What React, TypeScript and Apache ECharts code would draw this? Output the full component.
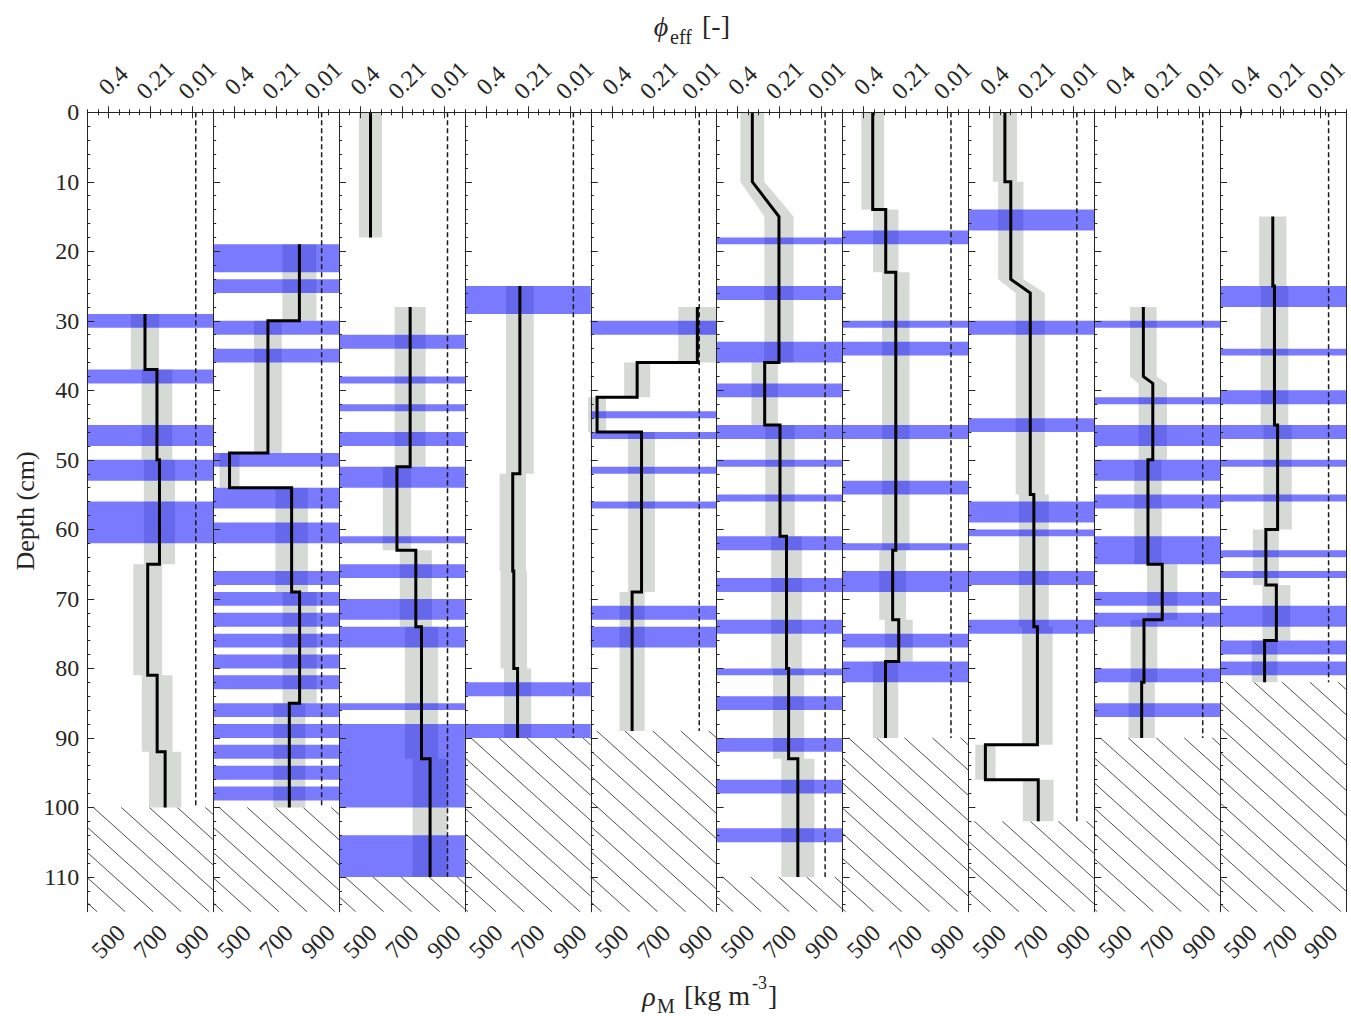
import React, { useEffect, useRef } from 'react';
import * as echarts from 'echarts';

const RHO_MIN = 400;
const RHO_MAX = 1000;
const DEPTH_MAX = 115;
const ICE_DENSITY = 917;
const UNCERTAINTY = 0.1;

const rhoTicks = [500, 700, 900];
const phiTickLabels = ['0.4', '0.21', '0.01'];
const depthTicks = [0, 10, 20, 30, 40, 50, 60, 70, 80, 90, 100, 110];
const depthMinorTicks = Array.from({ length: 58 }, (_, k) => k * 2);

// density profiles: vertex depths (cm) and densities (kg m-3); null splits a profile
const p1Depth = [29, 37, 37, 50, 50, 65, 65, 81, 81, 92, 92, 100];
const p1Rho = [675, 675, 732, 732, 744, 744, 688, 688, 733, 733, 771, 771];
const p2Depth = [19, 30, 30, 49, 49, 54, 54, 69, 69, 85, 85, 100];
const p2Rho = [811, 811, 661, 661, 478, 478, 774, 774, 812, 812, 763, 763];
const p3Depth = [0, 18, null, 28, 51, 51, 63, 63, 74, 74, 93, 93, 110];
const p3Rho = [550, 550, null, 739, 739, 676, 676, 766, 766, 793, 793, 834, 834];
const p4Depth = [25, 52, 52, 66, 66, 80, 80, 90];
const p4Rho = [662, 662, 628, 628, 633, 633, 651, 651];
const p5Depth = [28, 36, 36, 41, 41, 46, 46, 69, 69, 89];
const p5Rho = [908, 908, 621, 621, 430, 430, 642, 642, 597, 597];
const p6Depth = [0, 10, 15, 36, 36, 45, 45, 61, 61, 80, 80, 93, 93, 110];
const p6Rho = [570, 570, 697, 697, 629, 629, 702, 702, 733, 733, 743, 743, 787, 787];
const p7Depth = [0, 14, 14, 23, 23, 63, 63, 73, 73, 79, 79, 90];
const p7Rho = [544, 544, 606, 606, 654, 654, 639, 639, 668, 668, 605, 605];
const p8Depth = [0, 10, 10, 24, 26, 55, 55, 74, 74, 91, 91, 96, 96, 102];
const p8Rho = [574, 574, 602, 602, 695, 695, 712, 712, 729, 729, 481, 481, 733, 733];
const p9Depth = [28, 38, 39, 50, 50, 65, 65, 73, 73, 82, 82, 90];
const p9Rho = [634, 634, 679, 679, 656, 656, 724, 724, 637, 637, 626, 626];
const p10Depth = [15, 25, 25, 45, 45, 60, 60, 68, 68, 76, 76, 82];
const p10Rho = [651, 651, 659, 659, 674, 674, 618, 618, 668, 668, 612, 612];

// blue layers: [top, bottom] depth (cm)
const b1 = [[29, 31], [37, 39], [45, 48], [50, 53], [56, 62]];
const b2 = [[19, 23], [24, 26], [30, 32], [34, 36], [49, 51], [54, 57], [59, 62], [66, 68], [69, 71], [72, 74], [75, 77], [78, 80], [81, 83], [85, 87], [88, 90], [91, 93], [94, 96], [97, 99]];
const b3 = [[32, 34], [38, 39], [42, 43], [46, 48], [51, 54], [61, 62], [65, 67], [70, 73], [74, 77], [85, 86], [88, 100], [104, 110]];
const b4 = [[25, 29], [82, 84], [88, 90]];
const b5 = [[30, 32], [43, 44], [46, 47], [51, 52], [56, 57], [71, 73], [74, 77]];
const b6 = [[18, 19], [25, 27], [33, 36], [39, 41], [45, 47], [50, 51], [55, 56], [61, 63], [67, 69], [73, 75], [80, 81], [84, 86], [90, 92], [96, 98], [103, 105]];
const b7 = [[17, 19], [30, 31], [33, 35], [45, 47], [53, 55], [62, 63], [66, 69], [75, 77], [79, 82]];
const b8 = [[14, 17], [30, 32], [44, 46], [56, 59], [60, 61], [66, 68], [73, 75]];
const b9 = [[30, 31], [41, 42], [45, 48], [50, 53], [55, 57], [61, 65], [69, 71], [72, 74], [80, 82], [85, 87]];
const b10 = [[25, 28], [34, 35], [40, 42], [45, 47], [50, 51], [55, 56], [63, 64], [66, 67], [71, 74], [76, 78], [79, 81]];

// depth where each core ends (hatched below)
const bottoms = [100, 100, 110, 90, 89, 110, 90, 102, 90, 82];

const profileDepths = [p1Depth, p2Depth, p3Depth, p4Depth, p5Depth, p6Depth, p7Depth, p8Depth, p9Depth, p10Depth];
const profileRhos = [p1Rho, p2Rho, p3Rho, p4Rho, p5Rho, p6Rho, p7Rho, p8Rho, p9Rho, p10Rho];
const bands = [b1, b2, b3, b4, b5, b6, b7, b8, b9, b10];

const PANEL_LEFT = 87.3;
const PANEL_W = 125.87;
const PANEL_TOP = 112.3;
const PANEL_H = 799.4;
const AX = '#262626';
const TXT = '#262626';
const FONT = '"Liberation Serif", "Times New Roman", serif';
const GRAY = '#d6dad5';
const BLUE = 'rgba(0,0,255,0.52)';

function splitSegments(depths: (number | null)[], rhos: (number | null)[]) {
  const segs: number[][][] = [];
  let cur: number[][] = [];
  for (let i = 0; i < depths.length; i++) {
    const d = depths[i];
    const r = rhos[i];
    if (d == null || r == null) {
      if (cur.length) segs.push(cur);
      cur = [];
    } else cur.push([r, d]);
  }
  if (cur.length) segs.push(cur);
  return segs;
}

function buildOption() {
  const grid: any[] = [];
  const xAxis: any[] = [];
  const yAxis: any[] = [];
  const series: any[] = [];

  const labelStyle = { color: TXT, fontFamily: FONT, fontSize: 24 };

  for (let i = 0; i < 10; i++) {
    const left = PANEL_LEFT + i * PANEL_W;
    const gA = 2 * i;
    const gB = 2 * i + 1;
    grid.push({ left, top: PANEL_TOP, width: PANEL_W, height: PANEL_H });
    grid.push({ left, top: PANEL_TOP, width: PANEL_W, height: PANEL_H });

    const minorX = (position: string) => ({
      gridIndex: gA, type: 'value', position, min: RHO_MIN, max: RHO_MAX, interval: 50, z: 10,
      axisLine: { show: true, lineStyle: { color: AX, width: 1 } },
      axisTick: { show: true, inside: true, length: 3, lineStyle: { color: AX, width: 1 } },
      axisLabel: { show: false }, splitLine: { show: false },
    });
    xAxis.push(minorX('bottom'));
    xAxis.push(minorX('top'));
    xAxis.push({
      gridIndex: gB, type: 'value', position: 'bottom', min: RHO_MIN, max: RHO_MAX, z: 10,
      axisLine: { show: false },
      axisTick: { show: true, inside: true, length: 6, customValues: rhoTicks, lineStyle: { color: AX, width: 1 } },
      axisLabel: {
        show: true, customValues: rhoTicks, rotate: 45, margin: 30, align: 'center', verticalAlign: 'middle',
        ...labelStyle,
        formatter: (v: number) => (rhoTicks.indexOf(v) >= 0 ? String(v) : ''),
      },
      splitLine: { show: false },
    });
    xAxis.push({
      gridIndex: gB, type: 'value', position: 'top', min: RHO_MIN, max: RHO_MAX, z: 10,
      axisLine: { show: false },
      axisTick: { show: true, inside: true, length: 6, customValues: rhoTicks, lineStyle: { color: AX, width: 1 } },
      axisLabel: {
        show: true, customValues: rhoTicks, rotate: -45, margin: 27, align: 'center', verticalAlign: 'middle',
        padding: [0, 0, 0, 14],
        ...labelStyle,
        formatter: (v: number) => {
          const k = rhoTicks.indexOf(v);
          return k >= 0 ? phiTickLabels[k] : '';
        },
      },
      splitLine: { show: false },
    });

    yAxis.push({
      gridIndex: gA, type: 'value', position: 'left', inverse: true, min: 0, max: DEPTH_MAX, z: 10,
      axisLine: { show: true, lineStyle: { color: AX, width: 1 } },
      axisTick: { show: true, inside: true, length: 3, customValues: depthMinorTicks, lineStyle: { color: AX, width: 1 } },
      axisLabel: { show: false }, splitLine: { show: false },
    });
    yAxis.push({
      gridIndex: gA, type: 'value', position: 'right', inverse: true, min: 0, max: DEPTH_MAX, z: 10,
      axisLine: { show: true, lineStyle: { color: AX, width: 1 } },
      axisTick: { show: false }, axisLabel: { show: false }, splitLine: { show: false },
    });
    yAxis.push({
      gridIndex: gB, type: 'value', position: 'left', inverse: true, min: 0, max: DEPTH_MAX, z: 10,
      axisLine: { show: false },
      axisTick: { show: true, inside: true, length: 7, customValues: depthTicks, lineStyle: { color: AX, width: 1 } },
      axisLabel: {
        show: i === 0, customValues: depthTicks, margin: 8, ...labelStyle,
        formatter: (v: number) => (depthTicks.indexOf(v) >= 0 ? String(v) : ''),
      },
      splitLine: { show: false },
    });

    const xi = 4 * i;
    const yi = 3 * i;
    const segs = splitSegments(profileDepths[i], profileRhos[i]);
    const bottom = bottoms[i];

    // hatched region below the core
    series.push({
      type: 'custom', coordinateSystem: 'cartesian2d', xAxisIndex: xi, yAxisIndex: yi, silent: true, z: 1,
      data: [[RHO_MIN, bottom]],
      renderItem: (params: any, api: any) => {
        const p0 = api.coord([RHO_MIN, api.value(1)]);
        const p1 = api.coord([RHO_MAX, DEPTH_MAX]);
        const x0 = p0[0], y0 = p0[1], x1 = p1[0], y1 = p1[1];
        const H = y1 - y0;
        const k = 0.9;
        const step = 28;
        const children: any[] = [];
        const jMin = -Math.ceil(H / k / step) - 1;
        const jMax = Math.ceil((x1 - x0) / step) + 1;
        for (let j = jMin; j <= jMax; j++) {
          const c = x0 + 6 + j * step;
          let sx: number, sy: number, ex: number, ey: number;
          if (c >= x0) { sx = c; sy = y0; } else { sx = x0; sy = y0 + k * (x0 - c); }
          if (sy >= y1 || sx >= x1) continue;
          const xe = c + H / k;
          if (xe <= x1) { ex = xe; ey = y1; } else { ex = x1; ey = y0 + k * (x1 - c); }
          children.push({
            type: 'line', shape: { x1: sx, y1: sy, x2: ex, y2: ey },
            style: { stroke: '#3a3a3a', lineWidth: 0.9 },
          });
        }
        return { type: 'group', children };
      },
    });

    // uncertainty band
    series.push({
      type: 'custom', coordinateSystem: 'cartesian2d', xAxisIndex: xi, yAxisIndex: yi, silent: true, z: 2,
      data: [[RHO_MIN, 0]],
      renderItem: (params: any, api: any) => {
        const children = segs.map((seg) => {
          const leftPts = seg.map(([r, d]) => api.coord([r * (1 - UNCERTAINTY), d]));
          const rightPts = seg.slice().reverse().map(([r, d]) => api.coord([r * (1 + UNCERTAINTY), d]));
          return { type: 'polygon', shape: { points: leftPts.concat(rightPts) }, style: { fill: GRAY } };
        });
        return { type: 'group', children };
      },
    });

    // blue layers
    series.push({
      type: 'custom', coordinateSystem: 'cartesian2d', xAxisIndex: xi, yAxisIndex: yi, silent: true, z: 3,
      data: bands[i].map(([t, b]) => [RHO_MIN, t, b]),
      encode: { x: 0, y: [1, 2] },
      renderItem: (params: any, api: any) => {
        const p0 = api.coord([RHO_MIN, api.value(1)]);
        const p1 = api.coord([RHO_MAX, api.value(2)]);
        return {
          type: 'rect',
          shape: { x: p0[0], y: p0[1], width: p1[0] - p0[0], height: p1[1] - p0[1] },
          style: { fill: BLUE },
        };
      },
    });

    // ice density reference
    series.push({
      type: 'line', xAxisIndex: xi, yAxisIndex: yi, silent: true, z: 4, symbol: 'none',
      data: [[ICE_DENSITY, 0], [ICE_DENSITY, bottom]],
      lineStyle: { color: '#1a1a1a', width: 1.5, type: [5, 3] },
    });

    // density profile
    segs.forEach((seg) => {
      series.push({
        type: 'line', xAxisIndex: xi, yAxisIndex: yi, silent: true, z: 5, symbol: 'none',
        data: seg,
        lineStyle: { color: '#000', width: 3, join: 'miter' },
      });
    });
  }

  const txt = (text: string, x: number, y: number, size: number, extra: any = {}) => ({
    type: 'text', x, y, silent: true, z: 20,
    style: {
      text, fill: TXT, fontFamily: FONT, fontSize: size,
      align: extra.align || 'left', textAlign: extra.align || 'left',
      verticalAlign: 'middle', textVerticalAlign: 'middle',
      fontStyle: extra.fontStyle || 'normal',
    },
    rotation: extra.rotation || 0,
  });

  const graphic = [
    txt('Depth (cm)', 25, 511, 26, { align: 'center', rotation: Math.PI / 2 }),
    txt('ϕ', 661, 26, 28, { align: 'center', fontStyle: 'italic' }),
    txt('eff', 670, 37, 20),
    txt('[-]', 702, 25, 28),
    txt('ρ', 649, 996, 28, { align: 'center', fontStyle: 'italic' }),
    txt('M', 657, 1006, 20),
    txt('[kg m', 684, 995, 28),
    txt('-3', 752, 983, 18),
    txt(']', 768, 995, 28),
  ];

  return { animation: false, backgroundColor: '#ffffff', grid, xAxis, yAxis, series, graphic };
}

export default function App() {
  const ref = useRef<HTMLDivElement>(null);
  useEffect(() => {
    if (!ref.current) return;
    const chart = echarts.init(ref.current, undefined, { renderer: 'svg' });
    chart.setOption(buildOption() as any);
    return () => chart.dispose();
  }, []);
  return (
    <div
      ref={ref}
      style={{ position: 'fixed', left: 0, top: 0, width: 1351, height: 1016, background: '#fff' }}
    />
  );
}
